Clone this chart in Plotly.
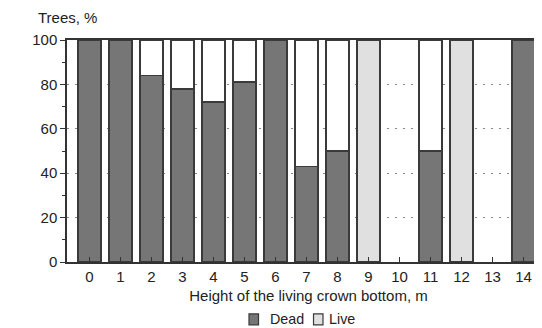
import plotly.graph_objects as go

heights = list(range(15))
tick_labels = [str(h) for h in heights]
dead = [100, 100, 84, 78, 72, 81, 100, 43, 50, 0, None, 50, 0, None, 100]
live = [0, 0, 16, 22, 28, 19, 0, 57, 50, 100, None, 50, 100, None, 0]
series_names = ["Dead", "Live"]

DEAD_COLOR = "#767676"
LIVE_GRAY = "#e0e0e0"
EDGE = "#3a3a3a"

# Live parts on bars that are entirely live are light gray; otherwise white
live_colors = [LIVE_GRAY if (d == 0 and l) else "#ffffff" for d, l in zip(dead, live)]

font = dict(family="Liberation Sans, Arial, sans-serif", size=15, color="#222")

fig = go.Figure()
fig.add_trace(go.Bar(
    x=heights, y=dead, name=series_names[0], width=0.74,
    marker=dict(color=DEAD_COLOR, line=dict(color=EDGE, width=1.5)),
))
fig.add_trace(go.Bar(
    x=heights, y=live, name=series_names[1], width=0.74,
    marker=dict(color=live_colors, line=dict(color=EDGE, width=1.5)),
))

# compact legend drawn as swatches + labels under the axis title
legend_items = [(series_names[0], DEAD_COLOR, 0.3768, 0.3965, 0.4155),
                (series_names[1], LIVE_GRAY, 0.5104, 0.5300, 0.5377)]
shapes, annotations = [], []
for name, col, x0, x1, tx in legend_items:
    shapes.append(dict(type="rect", xref="paper", yref="paper", x0=x0, x1=x1,
                       y0=-0.2831, y1=-0.2337, fillcolor=col,
                       line=dict(color=EDGE, width=1.2)))
    annotations.append(dict(text=name, xref="paper", yref="paper", x=tx, y=-0.2584,
                            xanchor="left", yanchor="middle", showarrow=False,
                            font=dict(size=14.3)))
annotations.append(dict(text="Trees, %", xref="paper", yref="paper",
                        x=-0.064, y=1.1, xanchor="left", yanchor="middle",
                        showarrow=False, font=dict(size=15)))

# page body has an 8px default margin, so the figure is laid out 8px up/left
fig.update_layout(
    barmode="stack",
    width=542, height=328,
    margin=dict(l=59, r=0, t=32, b=73.5, autoexpand=False),
    paper_bgcolor="white", plot_bgcolor="white",
    font=font,
    showlegend=False,
    shapes=shapes,
    annotations=annotations,
)
fig.update_xaxes(
    automargin=False,
    range=[-0.726, 14.855],
    tickmode="array", tickvals=heights, ticktext=tick_labels,
    ticks="inside", ticklen=5, tickcolor="#333", tickwidth=1,
    showline=True, linecolor="#333", linewidth=1.5, mirror=True,
    showgrid=False, zeroline=False,
    title=dict(text="Height of the living crown bottom, m", standoff=7, font=dict(size=15)),
)
fig.update_yaxes(
    automargin=False,
    range=[0, 100], tickvals=[0, 20, 40, 60, 80, 100],
    ticks="outside", ticklen=5, tickcolor="#333",
    minor=dict(tickvals=[10, 30, 50, 70, 90], ticks="outside", ticklen=3, tickcolor="#333",
               showgrid=False),
    showline=True, linecolor="#333", linewidth=1.5, mirror=True,
    showgrid=True, gridcolor="#888", griddash="2px,6px", gridwidth=1,
    zeroline=False,
)

fig.write_html("out.html")
